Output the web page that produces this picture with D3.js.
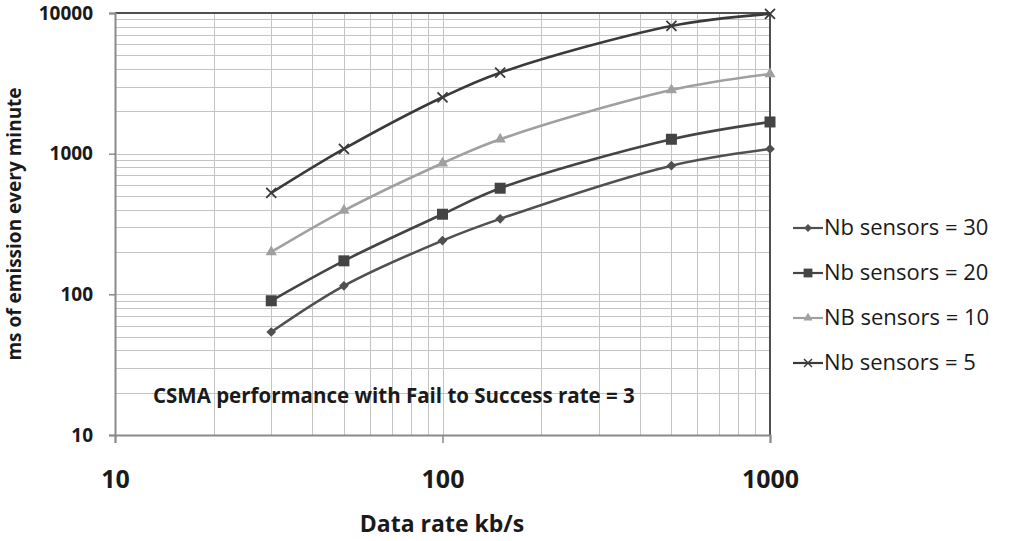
<!DOCTYPE html>
<html>
<head>
<meta charset="utf-8">
<script src="https://cdn.jsdelivr.net/npm/d3@7"></script>
<style>
  html, body { margin: 0; padding: 0; background: #fff; }
  svg { display: block; }
  text { font-family: "Open Sans", sans-serif; fill: #1a1a1a; }
</style>
</head>
<body>
<svg id="chart" width="1011" height="541"></svg>
<script>
// Data rate (kb/s) at which each configuration was measured
const dataRates = [30, 50, 100, 150, 500, 1000];

// ms of emission every minute, per number of sensors
const sensors30 = [54, 115, 241, 344, 822, 1080];
const sensors20 = [90, 173, 371, 568, 1266, 1680];
const sensors10 = [200, 394, 855, 1266, 2836, 3686];
const sensors5  = [526, 1080, 2517, 3764, 8086, 9850];

const seriesNames = ["Nb sensors = 30", "Nb sensors = 20", "NB sensors = 10", "Nb sensors = 5"];
const seriesColors = ["#505050", "#444444", "#a0a0a0", "#3a3a3a"];
const seriesMarkers = ["diamond", "square", "triangle", "cross"];

const xTickValues = [10, 100, 1000];
const yTickValues = [10, 100, 1000, 10000];

const chartTitle = "CSMA performance with Fail to Success rate = 3";
const xTitle = "Data rate kb/s";
const yTitle = "ms of emission every minute";

const series = [sensors30, sensors20, sensors10, sensors5].map((vals, i) => ({
  name: seriesNames[i], color: seriesColors[i], marker: seriesMarkers[i],
  points: dataRates.map((r, j) => ({ x: r, y: vals[j] }))
}));

const svg = d3.select("#chart");
const plot = { left: 115, right: 770, top: 13, bottom: 435 };

const x = d3.scaleLog().domain([10, 1000]).range([plot.left, plot.right]);
const y = d3.scaleLog().domain([10, 10000]).range([plot.bottom, plot.top]);

// minor + major gridlines (log spaced)
const xGrid = [];
for (let d = 10; d < 1000; d *= 10) for (let k = 1; k <= 9; k++) xGrid.push(d * k);
xGrid.push(1000);
const yGrid = [];
for (let d = 10; d < 10000; d *= 10) for (let k = 1; k <= 9; k++) yGrid.push(d * k);
yGrid.push(10000);

const grid = svg.append("g").attr("shape-rendering", "crispEdges");
grid.selectAll("line.h").data(yGrid).join("line")
  .attr("x1", plot.left).attr("x2", plot.right)
  .attr("y1", d => Math.round(y(d)) + 0.5).attr("y2", d => Math.round(y(d)) + 0.5)
  .attr("stroke", "#c4c4c4").attr("stroke-width", 1);
grid.selectAll("line.v").data(xGrid).join("line")
  .attr("y1", plot.top).attr("y2", plot.bottom)
  .attr("x1", d => Math.round(x(d)) + 0.5).attr("x2", d => Math.round(x(d)) + 0.5)
  .attr("stroke", "#c4c4c4").attr("stroke-width", 1);

// plot frame: dark top/right, grey axes at left/bottom
svg.append("line").attr("x1", plot.left).attr("x2", plot.right).attr("y1", plot.top).attr("y2", plot.top)
  .attr("stroke", "#505050").attr("stroke-width", 2);
svg.append("line").attr("x1", plot.right).attr("x2", plot.right).attr("y1", plot.top).attr("y2", plot.bottom)
  .attr("stroke", "#505050").attr("stroke-width", 2);

// axes
const yAxis = d3.axisLeft(y).tickValues(yTickValues).tickFormat(d3.format("d")).tickSize(6).tickPadding(16);
const gy = svg.append("g").attr("transform", `translate(${plot.left},0)`).call(yAxis);
gy.select(".domain").attr("stroke", "#8a8a8a").attr("stroke-width", 2);
gy.selectAll(".tick line").attr("stroke", "#8a8a8a").attr("stroke-width", 1.5);
gy.selectAll(".tick text").attr("font-family", "Open Sans").attr("font-weight", 700)
  .attr("font-size", 19).attr("fill", "#1a1a1a");

const xAxis = d3.axisBottom(x).tickValues(xTickValues).tickFormat(d3.format("d")).tickSize(8).tickPadding(27);
const gx = svg.append("g").attr("transform", `translate(0,${plot.bottom})`).call(xAxis);
gx.select(".domain").attr("stroke", "#8a8a8a").attr("stroke-width", 2);
gx.selectAll(".tick line").attr("stroke", "#8a8a8a").attr("stroke-width", 1.5);
gx.selectAll(".tick text").attr("font-family", "Open Sans").attr("font-weight", 700)
  .attr("font-size", 25).attr("fill", "#1a1a1a");

// axis titles
svg.append("text").attr("x", 442).attr("y", 532)
  .attr("text-anchor", "middle").attr("font-weight", 700).attr("font-size", 23)
  .text(xTitle);
svg.append("text").attr("transform", "translate(21,224) rotate(-90)")
  .attr("text-anchor", "middle").attr("font-weight", 700).attr("font-size", 19)
  .text(yTitle);

// in-plot annotation
svg.append("text").attr("x", 153).attr("y", 403)
  .attr("font-weight", 700).attr("font-size", 20.5).text(chartTitle);

// markers
function drawMarker(g, type, color) {
  if (type === "diamond") {
    g.append("path").attr("d", d3.symbol(d3.symbolDiamond2, 60)()).attr("fill", color);
  } else if (type === "square") {
    g.append("rect").attr("x", -5.5).attr("y", -5.5).attr("width", 11).attr("height", 11).attr("fill", color);
  } else if (type === "triangle") {
    g.append("path").attr("d", d3.symbol(d3.symbolTriangle, 55)()).attr("fill", color);
  } else {
    g.append("path").attr("d", "M-5,-5L5,5M-5,5L5,-5").attr("stroke", color).attr("stroke-width", 1.8).attr("fill", "none");
  }
}

const line = d3.line().x(d => x(d.x)).y(d => y(d.y)).curve(d3.curveCatmullRom.alpha(0.5));

series.forEach(s => {
  const g = svg.append("g");
  g.append("path").datum(s.points).attr("d", line)
    .attr("fill", "none").attr("stroke", s.color).attr("stroke-width", 2.6);
  s.points.forEach(p => {
    const m = g.append("g").attr("transform", `translate(${x(p.x)},${y(p.y)})`);
    drawMarker(m, s.marker, s.color);
  });
});

// legend
const legendBaselines = [235, 280, 325, 370];
series.forEach((s, i) => {
  const g = svg.append("g").attr("transform", `translate(0,${legendBaselines[i]})`);
  g.append("line").attr("x1", 793).attr("x2", 823).attr("y1", -7).attr("y2", -7)
    .attr("stroke", s.color).attr("stroke-width", 2.2);
  const m = g.append("g").attr("transform", "translate(808,-7) scale(0.8)");
  drawMarker(m, s.marker, s.color);
  g.append("text").attr("x", 824).attr("y", 0).attr("font-size", 22).attr("fill", "#222")
    .text(s.name);
});
</script>
</body>
</html>
